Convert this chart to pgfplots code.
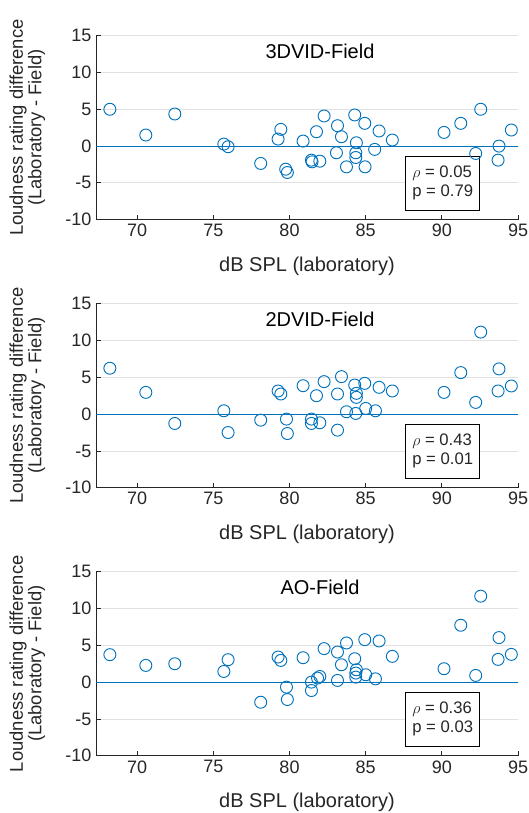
\documentclass[border=0pt]{standalone}
\usepackage{fontspec}
\setmainfont{Liberation Sans}
\usepackage{pgfplots}
\pgfplotsset{compat=1.18}
\definecolor{mblue}{RGB}{0,114,189}
\definecolor{axgray}{RGB}{38,38,38}
\definecolor{gridgray}{RGB}{225,225,225}
\pgfplotsset{panel/.style={
    width=316.5pt, height=138pt, scale only axis,
    xmin=67.3, xmax=95, ymin=-10, ymax=15,
    xtick={70,75,...,95}, ytick={-10,-5,...,15},
    axis x line*=bottom, axis y line*=left,
    axis line style={draw=axgray, line width=0.6pt, -},
    ymajorgrids, grid style={draw=gridgray, line width=0.6pt},
    tick align=inside, major tick length=3.5pt,
    tick style={draw=axgray, line width=0.6pt},
    ticklabel style={font=\fontsize{13.5}{14}\selectfont, text=axgray},
    /pgf/number format/assume math mode=true,
    xlabel={dB SPL (laboratory)},
    xlabel style={font=\fontsize{15}{16}\selectfont, text=axgray,
      at={(axis description cs:0.5,0)}, anchor=north, inner sep=0pt, yshift=-27.5pt},
    ylabel={Loudness rating difference\\(Laboratory - Field)},
    ylabel style={align=center, font=\fontsize{13.8}{12}\selectfont, text=axgray,
      at={(axis description cs:-0.12,0.5)}, anchor=south, inner sep=0pt},
    clip=false,
  },
  pts/.style={only marks, mark=o, mark size=4.5pt,
    mark options={draw=mblue, line width=0.7pt}},
}
\newcommand{\paneltitle}[1]{\node[font=\fontsize{15}{16}\selectfont, text=black] at (axis cs:82,12.9) {#1};}
\newcommand{\statbox}[2]{\node[draw=black, fill=white, line width=0.6pt, anchor=north west,
  align=left, minimum width=55.5pt, minimum height=40.5pt, inner xsep=3.5pt,
  font=\fontsize{12.5}{14.25}\selectfont, text=axgray] at (axis cs:87.6,-1.3)
  {$\rho$ = #1\\p = #2};}

\begin{document}
\begin{tikzpicture}
\useasboundingbox (-72pt,-444.95pt) rectangle (324pt,164.75pt);
% 3DVID-Field
\begin{axis}[panel]
\addplot[mblue, draw=mblue, line width=0.8pt, mark=none, forget plot] coordinates {(67.3,0) (95,0)};
\addplot[pts] coordinates {
(68.21,5.00) (70.57,1.50) (72.47,4.36) (75.69,0.27) (75.97,-0.09)
(78.11,-2.36) (79.43,2.27) (79.25,0.95) (79.75,-3.14) (79.86,-3.59)
(80.89,0.68) (81.44,-1.91) (81.48,-2.14) (81.77,1.95) (81.99,-2.05)
(82.27,4.09) (83.15,2.77) (83.41,1.27) (83.08,-0.91) (83.74,-2.82)
(84.28,4.23) (84.39,0.45) (84.35,-0.91) (84.35,-1.55) (84.94,3.09)
(84.96,-2.82) (85.59,-0.45) (85.88,2.05) (86.75,0.82) (90.14,1.86)
(91.24,3.09) (92.22,-1.00) (92.55,5.00) (93.75,0.00) (93.69,-1.91)
(94.56,2.18)
};
\paneltitle{3DVID-Field}
\statbox{0.05}{0.79}
\end{axis}
% 2DVID-Field
\begin{axis}[panel, at={(0,-201pt)}]
\addplot[mblue, draw=mblue, line width=0.8pt, mark=none, forget plot] coordinates {(67.3,0) (95,0)};
\addplot[pts] coordinates {
(68.21,6.23) (70.57,2.95) (72.47,-1.27) (75.69,0.45) (75.97,-2.50)
(78.11,-0.82) (79.25,3.14) (79.43,2.73) (79.80,-0.68) (79.86,-2.64)
(80.89,3.86) (81.44,-0.68) (81.44,-1.27) (81.77,2.50) (81.99,-1.18)
(82.27,4.41) (83.15,2.73) (83.41,5.09) (83.15,-2.18) (83.74,0.32)
(84.28,3.95) (84.39,2.82) (84.39,2.27) (84.35,0.09) (84.94,4.18)
(85.00,0.77) (85.64,0.45) (85.88,3.64) (86.75,3.14) (90.14,2.95)
(91.24,5.64) (92.22,1.59) (92.55,11.14) (93.75,6.14) (93.69,3.14)
(94.56,3.82)
};
\paneltitle{2DVID-Field}
\statbox{0.43}{0.01}
\end{axis}
% AO-Field
\begin{axis}[panel, at={(0,-402pt)}]
\addplot[mblue, draw=mblue, line width=0.8pt, mark=none, forget plot] coordinates {(67.3,0) (95,0)};
\addplot[pts] coordinates {
(68.21,3.73) (70.57,2.27) (72.47,2.50) (75.69,1.45) (75.97,3.05)
(78.11,-2.73) (79.25,3.41) (79.43,2.95) (79.80,-0.68) (79.86,-2.36)
(80.89,3.32) (81.44,0.00) (81.44,-1.14) (81.84,0.55) (81.99,0.77)
(82.27,4.55) (83.15,4.09) (83.41,2.36) (83.15,0.23) (83.74,5.32)
(84.28,3.18) (84.39,1.68) (84.35,1.23) (84.35,0.68) (84.94,5.77)
(85.00,1.00) (85.64,0.45) (85.88,5.59) (86.75,3.50) (90.14,1.82)
(91.24,7.73) (92.22,0.91) (92.55,11.68) (93.75,6.05) (93.69,3.09)
(94.56,3.77)
};
\paneltitle{AO-Field}
\statbox{0.36}{0.03}
\end{axis}
\end{tikzpicture}
\end{document}
